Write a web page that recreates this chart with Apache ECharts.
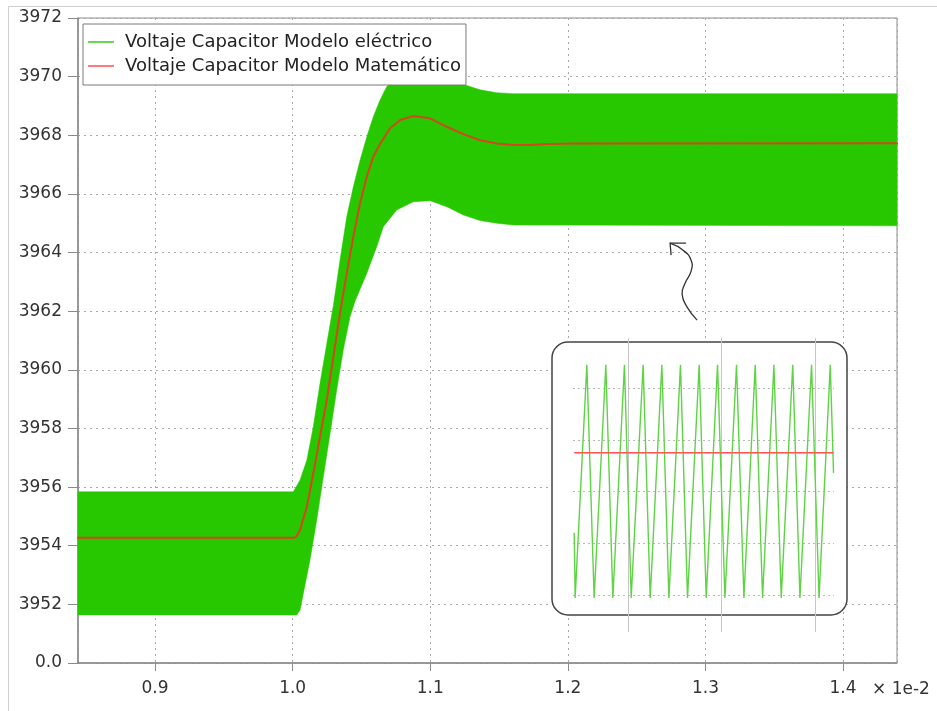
<!DOCTYPE html>
<html>
<head>
<meta charset="utf-8">
<script src="https://cdn.jsdelivr.net/npm/echarts@6/dist/echarts.min.js"></script>
<style>
  html, body { margin: 0; padding: 0; background: #ffffff; }
  #chart { width: 937px; height: 711px; }
</style>
</head>
<body>
<div id="chart"></div>
<script>
// Capacitor voltage after a load step: electrical model (switching ripple band)
// against the mathematical model (average value). Time in seconds.

// Ripple envelope of the electrical model — upper edge
const upperT = [0.008440, 0.010005, 0.010054, 0.010103, 0.010150, 0.010199, 0.010248, 0.010296,
  0.010344, 0.010393, 0.010441, 0.010490, 0.010539, 0.010586, 0.010635, 0.010684, 0.010756,
  0.010877, 0.010999, 0.011120, 0.011265, 0.011362, 0.011483, 0.011604, 0.014392];
const upperV = [3955.84, 3955.84, 3956.24, 3956.92, 3958.06, 3959.54, 3960.90, 3962.20,
  3963.74, 3965.22, 3966.24, 3967.15, 3967.95, 3968.63, 3969.20, 3969.66, 3969.95,
  3970.05, 3970.00, 3969.85, 3969.70, 3969.55, 3969.45, 3969.42, 3969.42];

// Ripple envelope of the electrical model — lower edge
const lowerT = [0.008440, 0.010030, 0.010054, 0.010078, 0.010126, 0.010175, 0.010223, 0.010272,
  0.010320, 0.010368, 0.010417, 0.010454, 0.010539, 0.010611, 0.010659, 0.010756, 0.010877,
  0.010999, 0.011120, 0.011241, 0.011362, 0.011483, 0.011604, 0.014392];
const lowerV = [3951.64, 3951.64, 3951.81, 3952.38, 3953.51, 3954.88, 3956.35, 3957.83,
  3959.31, 3960.68, 3961.81, 3962.35, 3963.29, 3964.20, 3964.88, 3965.45, 3965.73,
  3965.77, 3965.56, 3965.28, 3965.09, 3965.00, 3964.94, 3964.91];

// Mathematical model (average capacitor voltage)
const mathT = [0.008440, 0.010005, 0.010025, 0.010054, 0.010103, 0.010150, 0.010199, 0.010248,
  0.010296, 0.010344, 0.010393, 0.010441, 0.010490, 0.010539, 0.010586, 0.010635, 0.010708,
  0.010781, 0.010877, 0.010999, 0.011120, 0.011241, 0.011362, 0.011483, 0.011604, 0.011725,
  0.011847, 0.012040, 0.014392];
const mathV = [3954.27, 3954.27, 3954.30, 3954.54, 3955.33, 3956.47, 3957.72, 3958.97,
  3960.45, 3961.93, 3963.29, 3964.54, 3965.68, 3966.59, 3967.27, 3967.70, 3968.24,
  3968.52, 3968.66, 3968.58, 3968.29, 3968.04, 3967.83, 3967.72, 3967.67, 3967.67,
  3967.70, 3967.72, 3967.73];

// Zoomed detail of the steady-state ripple (time in µs)
const zoomT = [4.23, 4.33, 5.58, 6.36, 7.61, 8.36, 9.60, 10.32, 11.60, 12.35, 13.60, 14.35,
  15.59, 16.34, 17.59, 18.34, 19.55, 20.34, 21.58, 22.37, 23.58, 24.36, 25.58, 26.36,
  27.59, 28.36, 29.60, 30.40, 31.60, 31.95];
const zoomV = [3966.20, 3964.94, 3969.45, 3964.94, 3969.45, 3964.94, 3969.45, 3964.94,
  3969.45, 3964.94, 3969.45, 3964.94, 3969.45, 3964.94, 3969.45, 3964.94, 3969.45,
  3964.94, 3969.45, 3964.94, 3969.45, 3964.94, 3969.45, 3964.94, 3969.45, 3964.94,
  3969.45, 3964.94, 3969.45, 3967.36];
const zoomMeanT = [4.23, 31.95];
const zoomMeanV = [3967.75, 3967.75];
const zoomGridX = [10, 20, 30];
const zoomGridY = [3965, 3966, 3967, 3968, 3969];

// Y axis ticks and their printed labels
const yTicks = [3950, 3952, 3954, 3956, 3958, 3960, 3962, 3964, 3966, 3968, 3970, 3972];
const yTickLabels = ['0.0', '3952', '3954', '3956', '3958', '3960', '3962', '3964', '3966', '3968', '3970', '3972'];

const seriesNames = ['Voltaje Capacitor Modelo eléctrico', 'Voltaje Capacitor Modelo Matemático'];
const xUnitLabel = '× 1e-2';

const zip = (a, b) => a.map((v, i) => [v, b[i]]);

const FONT = 'DejaVu Sans';
const GREEN = '#27c800';
const LINE_ICON = 'path://M0,0H26V2H0Z';

const chart = echarts.init(document.getElementById('chart'), null, { renderer: 'canvas' });

chart.setOption({
  animation: false,
  backgroundColor: '#ffffff',
  textStyle: { fontFamily: FONT },
  grid: [
    { left: 78, right: 40, top: 18, bottom: 48, show: true, borderColor: '#8a8a8a', borderWidth: 1,
      containLabel: false, outerBoundsMode: 'none' },
    { left: 573, top: 338, width: 261, height: 294, containLabel: false, outerBoundsMode: 'none' }
  ],
  legend: {
    left: 83, top: 24, orient: 'vertical',
    padding: [9, 5, 10, 5],
    itemWidth: 26, itemHeight: 14, itemGap: 6,
    backgroundColor: '#ffffff', borderColor: '#7a7a7a', borderWidth: 1, borderRadius: 0,
    textStyle: { fontFamily: FONT, fontSize: 18, color: '#222222', padding: [0, 0, 0, 6] },
    selectedMode: false,
    data: [
      { name: seriesNames[0], icon: LINE_ICON, itemStyle: { color: '#6cd656', borderWidth: 0 } },
      { name: seriesNames[1], icon: LINE_ICON, itemStyle: { color: '#ff7a7a', borderWidth: 0 } }
    ]
  },
  xAxis: [
    {
      type: 'value', gridIndex: 0, min: 0.00844, max: 0.014392, splitNumber: 5,
      name: xUnitLabel, nameLocation: 'end', nameGap: -25,
      nameTextStyle: { fontFamily: FONT, fontSize: 17, color: '#333333', align: 'left', verticalAlign: 'top', padding: [18, 0, 0, 0] },
      axisLine: { show: true, onZero: false, lineStyle: { color: '#8a8a8a', width: 1.5 } },
      axisTick: { show: true, length: 8, lineStyle: { color: '#8a8a8a', width: 1 } },
      axisLabel: { fontFamily: FONT, fontSize: 17, color: '#333333', margin: 17,
        showMinLabel: false, showMaxLabel: false,
        formatter: v => (v * 100).toFixed(1) },
      splitLine: { show: true, lineStyle: { color: '#a8a8a8', width: 1, type: [2, 4] } }
    },
    {
      type: 'value', gridIndex: 1, min: 4.1, max: 32.0, show: false,
      splitLine: { show: false }
    }
  ],
  yAxis: [
    {
      type: 'value', gridIndex: 0, min: 3950, max: 3972, interval: 2,
      axisLine: { show: true, onZero: false, lineStyle: { color: '#8a8a8a', width: 1.5 } },
      axisTick: { show: true, length: 10, lineStyle: { color: '#8a8a8a', width: 1 } },
      axisLabel: { fontFamily: FONT, fontSize: 17, color: '#333333', margin: 16,
        formatter: v => yTickLabels[yTicks.indexOf(Math.round(v))] },
      splitLine: { show: true, lineStyle: { color: '#a8a8a8', width: 1, type: [2, 4] } }
    },
    {
      type: 'value', gridIndex: 1, min: 3964.28, max: 3969.97, show: false,
      splitLine: { show: false }
    }
  ],
  series: [
    {
      // ripple band of the electrical model, bounded by the two envelopes
      name: seriesNames[0],
      type: 'custom',
      xAxisIndex: 0, yAxisIndex: 0,
      z: 2,
      silent: true,
      data: [[upperT[0], upperV[0]]],
      renderItem: function (params, api) {
        const pts = [];
        for (let i = 0; i < upperT.length; i++) pts.push(api.coord([upperT[i], upperV[i]]));
        for (let i = lowerT.length - 1; i >= 0; i--) pts.push(api.coord([lowerT[i], lowerV[i]]));
        return { type: 'polygon', shape: { points: pts }, style: { fill: GREEN, stroke: GREEN, lineWidth: 0.5 } };
      }
    },
    {
      name: seriesNames[1],
      type: 'line',
      xAxisIndex: 0, yAxisIndex: 0,
      z: 3,
      symbol: 'none',
      smooth: false,
      lineStyle: { color: '#d4461e', width: 2, join: 'round', cap: 'round' },
      data: zip(mathT, mathV)
    },
    {
      name: seriesNames[0],
      type: 'line',
      xAxisIndex: 1, yAxisIndex: 1,
      z: 5,
      symbol: 'none',
      lineStyle: { color: '#5ed445', width: 1.4 },
      data: zip(zoomT, zoomV),
      markLine: {
        silent: true, symbol: ['none', 'none'], label: { show: false },
        data: zoomGridX.map(x => ({ xAxis: x, lineStyle: { color: '#c6c6c6', width: 1, type: 'solid' } }))
          .concat(zoomGridY.map(y => ({ yAxis: y, lineStyle: { color: '#b9b9b9', width: 1.2, type: [2, 3] } })))
      }
    },
    {
      name: seriesNames[1],
      type: 'line',
      xAxisIndex: 1, yAxisIndex: 1,
      z: 6,
      symbol: 'none',
      lineStyle: { color: '#ff5252', width: 1.6 },
      data: zip(zoomMeanT, zoomMeanV)
    }
  ]
});

// Annotations: outer frame, detail box and the pointer arrow
const tip = chart.convertToPixel({ gridIndex: 0 }, [0.012743, 3964.32]);
const arrowPts = [[27, 77], [17, 64], [12, 51], [15, 40], [21, 28], [21, 17], [13, 7], [0, 0]];
chart.setOption({
  graphic: [
    { id: 'frame', type: 'rect', z: 0, silent: true,
      shape: { x: 8.5, y: 6.5, width: 1000, height: 1000 },
      style: { fill: 'none', stroke: '#cfcfcf', lineWidth: 1 } },
    { id: 'detailBox', type: 'rect', z: 3, silent: true,
      shape: { x: 552, y: 342, width: 295, height: 273, r: 16 },
      style: { fill: '#ffffff', stroke: '#444444', lineWidth: 1.5 } },
    { id: 'arrowBody', type: 'polyline', z: 3, silent: true,
      shape: { points: arrowPts.map(p => [tip[0] + p[0], tip[1] + p[1]]), smooth: 0.5 },
      style: { fill: 'none', stroke: '#333333', lineWidth: 1.3 } },
    { id: 'arrowHead', type: 'polyline', z: 3, silent: true,
      shape: { points: [[tip[0] + 16, tip[1]], [tip[0], tip[1]], [tip[0] + 1, tip[1] + 12]] },
      style: { fill: 'none', stroke: '#333333', lineWidth: 1.3 } }
  ]
});
</script>
</body>
</html>
